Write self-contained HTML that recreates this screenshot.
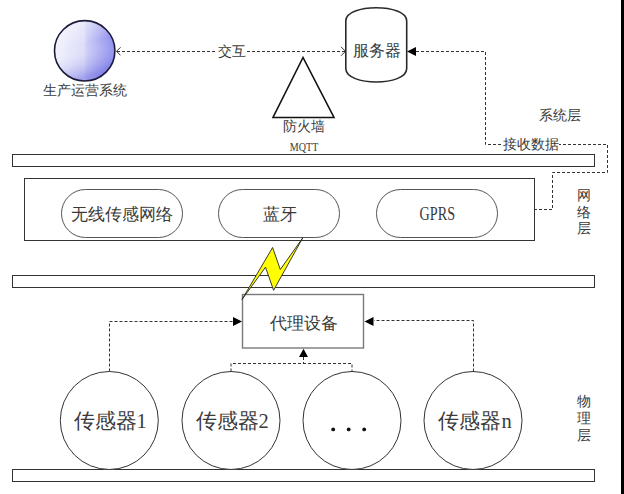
<!DOCTYPE html>
<html><head><meta charset="utf-8">
<style>
html,body{margin:0;padding:0;background:#fff;width:624px;height:494px;overflow:hidden}
svg{display:block}
text{font-family:"Liberation Serif",serif;fill:#3a3a3a}
</style></head>
<body>
<svg width="624" height="494" viewBox="0 0 624 494">
<defs>
<linearGradient id="g1" x1="0" y1="0" x2="1" y2="0">
<stop offset="0" stop-color="#f2f2fd"/>
<stop offset="0.5" stop-color="#dcdcf9"/>
<stop offset="0.52" stop-color="#cfcff7"/>
<stop offset="1" stop-color="#8a8aee"/>
</linearGradient>
<linearGradient id="g2" x1="0" y1="0" x2="0.3" y2="1">
<stop offset="0" stop-color="#ffffff" stop-opacity="0.55"/>
<stop offset="0.5" stop-color="#ffffff" stop-opacity="0"/>
<stop offset="1" stop-color="#5a5ade" stop-opacity="0.45"/>
</linearGradient>
</defs>
<rect x="621" y="0" width="3" height="494" fill="#000"/>

<!-- system circle -->
<circle cx="84.7" cy="50.8" r="30.2" fill="url(#g1)"/>
<circle cx="84.7" cy="50.8" r="30.2" fill="url(#g2)" stroke="#1c1c3a" stroke-width="1.6"/>
<text x="85" y="95" font-size="13.5" text-anchor="middle">生产运营系统</text>

<!-- dashed interaction line -->
<line x1="117" y1="51.5" x2="345" y2="51.5" stroke="#333" stroke-width="1" stroke-dasharray="3,2"/>
<polyline points="120.5,47.3 116.5,51.3 120.5,55.3" fill="none" stroke="#333" stroke-width="1"/>
<polyline points="341,46.8 345.5,51.3 341,55.8" fill="none" stroke="#333" stroke-width="1"/>
<rect x="216" y="43" width="31" height="15" fill="#fff"/>
<text x="231.5" y="56" font-size="13.5" text-anchor="middle">交互</text>

<!-- server -->
<path d="M345.8,21 C345.8,3.4 406.7,3.4 406.7,21 L406.7,68.5 C406.7,86.5 345.8,86.5 345.8,68.5 Z" fill="#fff" stroke="#2a2a2a" stroke-width="1.6"/>
<text x="377" y="55.8" font-size="15.5" text-anchor="middle">服务器</text>

<!-- receive data dashed path -->
<polyline points="416,51.5 485.5,51.5 485.5,144.5 607.5,144.5 607.5,172.5 552.5,172.5 552.5,209.5 534,209.5" fill="none" stroke="#333" stroke-width="1" stroke-dasharray="3,2"/>
<polygon points="407,51.5 416,47 416,56" fill="#000"/>
<rect x="501" y="136" width="58" height="16" fill="#fff"/>
<text x="531" y="148.8" font-size="13.5" text-anchor="middle">接收数据</text>
<text x="559.5" y="120" font-size="13.5" text-anchor="middle">系统层</text>

<!-- firewall -->
<polygon points="303,57.5 273,117.5 334,117.5" fill="#fff" stroke="#111" stroke-width="1.6"/>
<text x="304" y="131" font-size="13.5" text-anchor="middle">防火墙</text>
<text x="289.8" y="150.8" font-size="12.5" textLength="28.5" lengthAdjust="spacingAndGlyphs">MQTT</text>

<!-- bars -->
<rect x="12.5" y="154.5" width="582" height="12" fill="#fff" stroke="#333" stroke-width="1"/>
<rect x="12.5" y="275.5" width="582" height="12" fill="#fff" stroke="#333" stroke-width="1"/>
<rect x="12.5" y="469.5" width="582" height="12" fill="#fff" stroke="#333" stroke-width="1"/>

<!-- network box -->
<rect x="24.5" y="178.5" width="510" height="62" fill="#fff" stroke="#333" stroke-width="1"/>
<rect x="61.5" y="189.5" width="121" height="48" rx="24" ry="24" fill="#fff" stroke="#555" stroke-width="1"/>
<rect x="218.5" y="189.5" width="121" height="48" rx="24" ry="24" fill="#fff" stroke="#555" stroke-width="1"/>
<rect x="376.5" y="189.5" width="121" height="48" rx="24" ry="24" fill="#fff" stroke="#555" stroke-width="1"/>
<text x="121.5" y="219.5" font-size="16.5" text-anchor="middle">无线传感网络</text>
<text x="279.5" y="219.5" font-size="16.5" text-anchor="middle">蓝牙</text>
<text x="419.6" y="219.6" font-size="18" textLength="35.5" lengthAdjust="spacingAndGlyphs">GPRS</text>
<text x="583.5" y="200" font-size="13.5" text-anchor="middle">网</text>
<text x="583.5" y="216.5" font-size="13.5" text-anchor="middle">络</text>
<text x="583.5" y="233" font-size="13.5" text-anchor="middle">层</text>

<!-- proxy -->
<rect x="242.5" y="294.5" width="121" height="53.5" fill="#fff" stroke="#7a7a7a" stroke-width="1.4"/>
<text x="303.5" y="329" font-size="17" text-anchor="middle">代理设备</text>

<!-- lightning -->
<polygon points="302.8,237.8 273.6,290.3 265.5,267.2 242,299.5 272.6,247.5 280.3,269.5" fill="#ffff00" stroke="#222" stroke-width="0.9" stroke-linejoin="miter"/>

<!-- sensor dashed lines -->
<polyline points="109.5,371.5 109.5,321.5 233,321.5" fill="none" stroke="#333" stroke-width="1" stroke-dasharray="3,2"/>
<polygon points="242,321.5 233,317 233,326" fill="#000"/>
<polyline points="473.5,371.5 473.5,320.5 374,320.5" fill="none" stroke="#333" stroke-width="1" stroke-dasharray="3,2"/>
<polygon points="364.5,321.5 373.5,317 373.5,326" fill="#000"/>
<polyline points="231,371.5 231,363.5 352,363.5 352,371.5" fill="none" stroke="#333" stroke-width="1" stroke-dasharray="3,2"/>
<line x1="303.5" y1="357" x2="303.5" y2="363.5" stroke="#333" stroke-width="1" stroke-dasharray="3,2"/>
<polygon points="303.5,348.7 299,357 308,357" fill="#000"/>

<!-- sensors -->
<circle cx="109.3" cy="420.5" r="49" fill="#fff" stroke="#333" stroke-width="1"/>
<circle cx="231" cy="420.5" r="49" fill="#fff" stroke="#333" stroke-width="1"/>
<circle cx="352" cy="420.5" r="49" fill="#fff" stroke="#333" stroke-width="1"/>
<circle cx="473" cy="420.5" r="49" fill="#fff" stroke="#333" stroke-width="1"/>
<text x="110.2" y="428.4" font-size="20.5" text-anchor="middle">传感器1</text>
<text x="232.2" y="428.4" font-size="20.5" text-anchor="middle">传感器2</text>
<circle cx="333.2" cy="429.4" r="1.9" fill="#111"/>
<circle cx="348.7" cy="429.4" r="1.9" fill="#111"/>
<circle cx="364.2" cy="429.4" r="1.9" fill="#111"/>
<text x="475" y="428.4" font-size="20.5" text-anchor="middle">传感器n</text>
<text x="583.5" y="406" font-size="13.5" text-anchor="middle">物</text>
<text x="583.5" y="423" font-size="13.5" text-anchor="middle">理</text>
<text x="583.5" y="440" font-size="13.5" text-anchor="middle">层</text>
</svg>
</body></html>
